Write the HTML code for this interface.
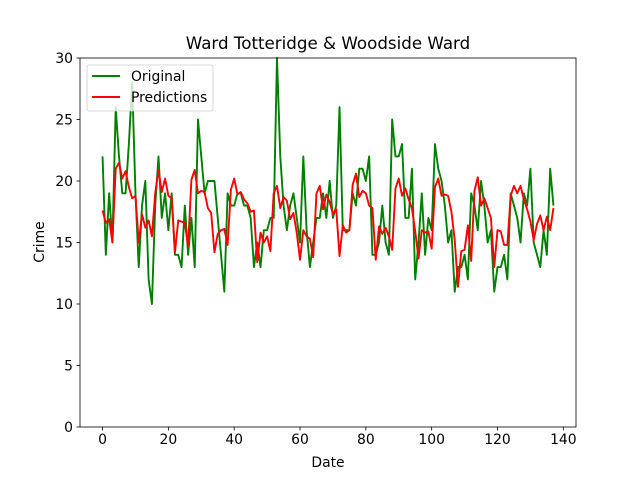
<!DOCTYPE html>
<html><head><meta charset="utf-8"><style>
body{margin:0;background:#fff;}
svg{display:block;font-family:"DejaVu Sans","Liberation Sans",sans-serif;}
</style></head><body>
<svg id="chart" width="640" height="480">
<rect x="0" y="0" width="640" height="480" fill="#fff"/>
<text x="328" y="49" font-size="16.7" text-anchor="middle">Ward Totteridge &amp; Woodside Ward</text>
<g id="plot"></g>
<text x="328" y="467" font-size="13.9" text-anchor="middle">Date</text>
<text x="44" y="242" font-size="13.9" text-anchor="middle" transform="rotate(-90 44 242)">Crime</text>
</svg>
<script>
const original = [22,14,19,15,26,22,19,19,23,28,19,13,18,20,12,10,18,22,17,19,16,19,14,14,13,18,14,17,13,25,22,19,20,20,20,17,14,11,19,18,18,19,19,18,18,17,13,15,13,16,16,17,17,30,22,18,16,18,19,17,15,22,16,13,15,17,17,19,17,20,17,18,26,16,16,16,19,18,21,21,20,22,14,14,15,18,15,14,25,22,22,23,17,17,21,12,15,19,14,17,16,23,21,20,18,15,16,11,13,13,14,12,19,18,16,20,18,15,16,11,13,13,14,12,19,18,17,15,19,18,21,15,14,13,16,14,21,18];
const predictions = [17.6,16.6,16.9,15,21,21.5,20.2,20.8,19.5,18.6,18.8,15,17.3,16.2,16.8,15.5,19,20.9,19.1,20.2,18.8,18.6,14.2,16.8,16.7,16.6,14.7,20.1,20.9,19,19.2,19.1,17.8,17.4,14.2,15.7,16,16.1,14.8,19.3,20.2,18.9,19.1,18.5,18.2,17.5,17.6,13.4,15.8,15,15.5,14.3,19,19.6,17.8,18.7,18.4,16.9,17.4,15.8,13.6,16,15.5,15.3,13.8,19,19.6,17.7,18.9,18.3,17.3,17.7,13.9,16.4,15.8,16,19.7,20.6,18.7,19.2,19,18,17.8,13.6,16.3,15.7,16.2,15.5,14.4,19.4,20.2,18.8,19.4,18.5,17.8,15.9,13.7,16,15.8,15.9,14.5,19.5,20.2,18.8,18.9,18.8,17.5,15.2,11.4,14.3,14.4,16.4,13.5,19.2,20.3,18,18.6,17.8,17,13,16,15.9,14.8,14.8,18.8,19.6,19,19.6,18.5,17.7,16.7,15.2,16.5,17.2,16.0,17.1,16,17.8];
const xTicks = [0,20,40,60,80,100,120,140];
const yTicks = [0,5,10,15,20,25,30];
const seriesNames = ["Original","Predictions"];

const NS="http://www.w3.org/2000/svg";
const L=80,R=576,T=58,B=427;
const n=Math.max(original.length,predictions.length)-1;
const xmin=-0.05*n,xmax=1.05*n;
function xs(v){return L+(v-xmin)/(xmax-xmin)*(R-L);}
function ys(v){return B-(v/30)*(B-T);}
const g=document.getElementById('plot');
function mk(tag,attrs,parent){const e=document.createElementNS(NS,tag);for(const k in attrs)e.setAttribute(k,attrs[k]);(parent||g).appendChild(e);return e;}

function line(data,color,name){
  const p=mk('polyline',{points:data.map((v,i)=>xs(i).toFixed(2)+','+ys(v).toFixed(2)).join(' '),fill:'none',stroke:color,'stroke-width':1.9,'stroke-linejoin':'round'});
  
  
}
line(original,'#008000','original-line');
line(predictions,'#ff0000','predictions-line');

const frame=mk('rect',{x:L,y:T,width:R-L,height:B-T,fill:'none',stroke:'#000','stroke-width':0.8});



xTicks.forEach(t=>{
  const x=xs(t);
  const tk=mk('line',{x1:x,x2:x,y1:B,y2:B+3.5,stroke:'#000','stroke-width':0.8});
  
  
  const tx=mk('text',{x:x,y:B+17,'font-size':13.9,'text-anchor':'middle'});
  tx.textContent=t;
  
  
});
yTicks.forEach(t=>{
  const y=ys(t);
  const tk=mk('line',{x1:L-3.5,x2:L,y1:y,y2:y,stroke:'#000','stroke-width':0.8});
  
  
  const tx=mk('text',{x:L-7,y:y+5,'font-size':13.9,'text-anchor':'end'});
  tx.textContent=t;
  
  
});

const lg=mk('g',{});


mk('rect',{x:87,y:65,width:126,height:46,rx:2,fill:'#fff','fill-opacity':0.8,stroke:'#ccc','stroke-width':0.8},lg);
const colors=['#008000','#ff0000'];
seriesNames.forEach((s,i)=>{
  const y=76+i*21;
  const ln=mk('line',{x1:92,x2:120,y1:y,y2:y,stroke:colors[i],'stroke-width':1.9},lg);
  
  
  const tx=mk('text',{x:131,y:y+5,'font-size':13.9},lg);
  tx.textContent=s;
  
  
});
</script>
</body></html>
